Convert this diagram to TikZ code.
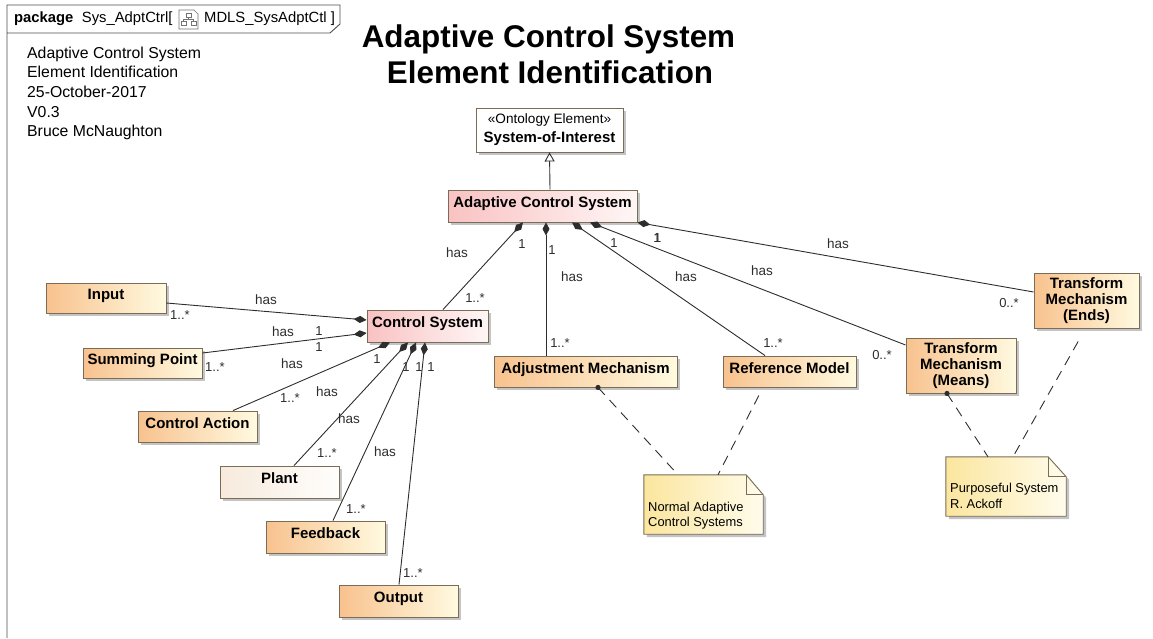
\documentclass[tikz,border=0pt]{standalone}
\usepackage{fontspec}
\setmainfont{Liberation Sans}
\usetikzlibrary{arrows.meta,shadows}

\definecolor{edge}{RGB}{122,108,86}
\definecolor{ink}{RGB}{45,45,45}
\definecolor{shd}{RGB}{196,196,196}
\definecolor{orL}{RGB}{248,194,142}
\definecolor{orR}{RGB}{255,250,224}
\definecolor{pkL}{RGB}{249,194,194}
\definecolor{pkR}{RGB}{255,246,246}
\definecolor{plL}{RGB}{246,234,220}
\definecolor{plR}{RGB}{255,254,252}
\definecolor{ntL}{RGB}{251,230,158}
\definecolor{ntR}{RGB}{255,252,236}

\newcommand\bxfont{\fontsize{15}{16}\selectfont\bfseries}

% dog-eared note outline drawn around an (invisible) named node
\newcommand\umlnote[3]{% node, fold width, fold height
  \fill[shd] ([shift={(3pt,-3pt)}]#1.north west) -- ([shift={(-#2pt+3pt,-3pt)}]#1.north east)
     -- ([shift={(3pt,-#3pt-3pt)}]#1.north east) -- ([shift={(3pt,-3pt)}]#1.south east)
     -- ([shift={(3pt,-3pt)}]#1.south west) -- cycle;
  \shade[left color=ntL, right color=ntR] (#1.north west) -- ([xshift=-#2pt]#1.north east)
     -- ([yshift=-#3pt]#1.north east) -- (#1.south east) -- (#1.south west) -- cycle;
  \draw[draw=edge, line width=0.9pt, line join=miter] (#1.north west) -- ([xshift=-#2pt]#1.north east)
     -- ([yshift=-#3pt]#1.north east) -- (#1.south east) -- (#1.south west) -- cycle;
  \draw[draw=edge, line width=0.9pt] ([xshift=-#2pt]#1.north east) -- ([xshift=-#2pt,yshift=-#3pt]#1.north east)
     -- ([yshift=-#3pt]#1.north east);
}

\begin{document}
\begin{tikzpicture}[x=1pt,y=-1pt,
  box/.style={draw=edge, line width=0.9pt, inner sep=0pt, font=\bxfont, text=black, align=center,
    drop shadow={shadow xshift=3pt, shadow yshift=-3pt, fill=shd, opacity=1}},
  one/.style={text height=11pt, text depth=8pt},
  sz/.style n args={2}{minimum width=#1pt, minimum height=#2pt},
  orange/.style={box, left color=orL, right color=orR},
  pink/.style={box, left color=pkL, right color=pkR},
  pale/.style={box, left color=plL, right color=plR},
  plain/.style={box, fill=white},
  notearea/.style={inner sep=0pt, draw=none},
  notetext/.style={anchor=base west, inner sep=0pt, font=\fontsize{12.9}{15}\selectfont, text=black},
  lbl/.style={inner sep=0pt, font=\fontsize{13.5}{15}\selectfont, text=ink},
  mul/.style={inner sep=0pt, font=\fontsize{13}{15}\selectfont, text=ink},
  hdr/.style={anchor=base west, inner sep=0pt, font=\fontsize{15.8}{18}\selectfont, text=black},
  ttl/.style={anchor=base, inner sep=0pt, font=\fontsize{31.4}{36}\selectfont\bfseries, text=black},
  comp/.style={draw=ink, line width=0.9pt, -{Diamond[length=13pt, width=7pt]}},
  gen/.style={draw=ink, line width=0.9pt, -{Triangle[open, length=9pt, width=10pt, fill=white]}},
  notelink/.style={draw=ink, line width=0.9pt, dash pattern=on 10pt off 7pt},
  frame/.style={draw=black!70, line width=0.9pt, line join=miter}
]
\useasboundingbox (0,0) rectangle (1153,638);

% package frame and its name tab
\draw[frame] (7,638) -- (7,5) -- (340,5) -- (340,24) -- (330,33) -- (7,33);
\node[anchor=base west, inner sep=0pt, font=\fontsize{14.8}{16}\selectfont] (pkg) at (14,22)
  {\textbf{package}\hspace{8.5pt}Sys\_AdptCtrl[};
\node[anchor=base west, inner sep=0pt, font=\fontsize{14.8}{16}\selectfont] (pkgdiag) at (204,22)
  {MDLS\_SysAdptCtl ]};
% diagram icon
\draw[draw=black!55, line width=0.7pt, fill=white] (179,10) -- (194,10) -- (198,14) -- (198,29) -- (179,29) -- cycle;
\draw[draw=black!55, line width=0.6pt] (186,13) rectangle (191,17) (188.5,17) -- (188.5,19) (183.5,19) -- (193.5,19)
  (183.5,19) -- (183.5,21) (193.5,19) -- (193.5,21) (181,21) rectangle (186,25) (191,21) rectangle (196,25);

% document information
\node[hdr] (i1) at (27,58) {Adaptive Control System};
\node[hdr] (i2) at (27,77.5) {Element Identification};
\node[hdr] (i3) at (27,97) {25-October-2017};
\node[hdr] (i4) at (27,117) {V0.3};
\node[hdr] (i5) at (27,136.5) {Bruce McNaughton};

% title
\node[ttl] (t1) at (548.5,47) {Adaptive Control System};
\node[ttl] (t2) at (550,83.5) {Element Identification};

% blocks
\node[plain, sz={147}{44}, font=\fontsize{15}{19}\selectfont\bfseries] (soi) at (549.5,130)
  {{\mdseries\fontsize{13.6}{19}\selectfont «Ontology Element»}\\System-of-Interest};
\node[pink, one, sz={189}{32}] (acs) at (542.5,206) {Adaptive Control System};
\node[pink, one, sz={121}{32}] (cs) at (427.5,326) {Control System};
\node[orange, one, sz={120}{30}] (input) at (106,298) {Input};
\node[orange, one, sz={119}{30}] (sum) at (142.5,363) {Summing Point};
\node[orange, one, sz={119}{31}] (cact) at (197.5,426.5) {Control Action};
\node[pale, one, sz={119}{32}] (plant) at (279.5,482) {Plant};
\node[orange, one, sz={119}{32}] (fb) at (325.5,537) {Feedback};
\node[orange, one, sz={119}{32}] (out) at (398.5,601) {Output};
\node[orange, one, sz={183}{31}] (adj) at (585.5,371.5) {Adjustment Mechanism};
\node[orange, one, sz={133}{31}] (ref) at (789.5,371.5) {Reference Model};
\node[orange, sz={110}{55}, font=\fontsize{15}{16}\selectfont\bfseries] (tmm) at (961,365.5)
  {Transform\\Mechanism\\(Means)};
\node[orange, sz={105}{55}, font=\fontsize{15}{16}\selectfont\bfseries] (tme) at (1086.5,300.5)
  {Transform\\Mechanism\\(Ends)};

% notes
\node[notearea, sz={119}{59}] (note1) at (703.5,504.5) {};
\node[notearea, sz={120}{59}] (note2) at (1006,486.5) {};
\umlnote{note1}{17}{20}
\umlnote{note2}{18}{20}
\node[notetext] (n1a) at (648,511.5) {Normal Adaptive};
\node[notetext] (n1b) at (648,526.5) {Control Systems};
\node[notetext] (n2a) at (950,492.5) {Purposeful System};
\node[notetext] (n2b) at (950,508.3) {R. Ackoff};

% generalization
\draw[gen] ([xshift=7.5pt]acs.north) -- (soi.south);

% parts of Control System
\draw[comp] ([yshift=-5pt]input.east) -- ([yshift=6pt]cs.west);
\draw[comp] ([yshift=10pt]sum.east) -- ([yshift=-7pt]cs.west);
\draw[comp] ([xshift=35.5pt]cact.north) -- ([xshift=-37.5pt]cs.south);
\draw[comp] ([xshift=14.5pt]plant.north) -- ([xshift=-19.5pt]cs.south);
\draw[comp] ([xshift=7.5pt]fb.north) -- ([xshift=-11.5pt]cs.south);
\draw[comp] ([xshift=0.5pt]out.north) -- ([xshift=-2.5pt]cs.south);

% parts of Adaptive Control System
\draw[comp] ([xshift=15.5pt]cs.north) -- ([xshift=-19.5pt]acs.south);
\draw[comp] ([xshift=-39.5pt]adj.north) -- ([xshift=3.5pt]acs.south);
\draw[comp] ([xshift=-24.5pt]ref.north) -- ([xshift=29.5pt]acs.south);
\draw[comp] ([yshift=20.5pt]tmm.west) -- ([xshift=47.5pt]acs.south);
\draw[comp] ([yshift=8.5pt]tme.west) -- (acs.south east);

% note anchors
\fill[ink] ([xshift=12.5pt]adj.south) circle (2.6pt);
\draw[notelink] ([xshift=12.5pt]adj.south) -- ([xshift=-25.5pt]note1.north);
\draw[notelink, shorten <=9pt] ([xshift=-26.5pt]ref.south) -- ([xshift=14.5pt]note1.north);
\fill[ink] ([xshift=-14pt]tmm.south) circle (2.6pt);
\draw[notelink] ([xshift=-14pt]tmm.south) -- ([xshift=-18pt]note2.north);
\draw[notelink, shorten <=15pt] ([xshift=-1pt]tme.south) -- ([xshift=7pt]note2.north);

% association labels, Control System side
\node[lbl] (h1) at (266,300) {has};
\node[mul] (m1) at (180,315) {1..*};
\node[mul] (m2) at (319,331) {1};
\node[lbl] (h2) at (283,332) {has};
\node[mul] (m3) at (319,347) {1};
\node[mul] (m4) at (215,367) {1..*};
\node[lbl] (h3) at (292,364) {has};
\node[mul] (m5) at (377,359) {1};
\node[mul] (m6) at (290,398) {1..*};
\node[lbl] (h4) at (327,392) {has};
\node[lbl] (h5) at (349,419) {has};
\node[lbl] (h6) at (385,452) {has};
\node[mul] (m7) at (327,453) {1..*};
\node[mul] (m8) at (356,509) {1..*};
\node[mul] (m9) at (413,573) {1..*};
\node[mul] (m10) at (406,367) {1};
\node[mul] (m11) at (419,367) {1};
\node[mul] (m12) at (431,367) {1};

% association labels, Adaptive Control System side
\node[lbl] (h7) at (457,253) {has};
\node[mul] (m13) at (522,244) {1};
\node[mul] (m14) at (475,298) {1..*};
\node[mul] (m15) at (552,250) {1};
\node[lbl] (h8) at (572,277) {has};
\node[mul] (m16) at (560,343) {1..*};
\node[mul] (m17) at (614,243) {1};
\node[lbl] (h9) at (686,277) {has};
\node[mul] (m18) at (773,343) {1..*};
\node[mul] (m19) at (657,238) {1};
\node[mul] (m20) at (657.7,238) {1};
\node[lbl] (h10) at (762,271) {has};
\node[mul] (m21) at (882,355) {0..*};
\node[lbl] (h11) at (838,244) {has};
\node[mul] (m22) at (1009,303) {0..*};
\end{tikzpicture}
\end{document}
